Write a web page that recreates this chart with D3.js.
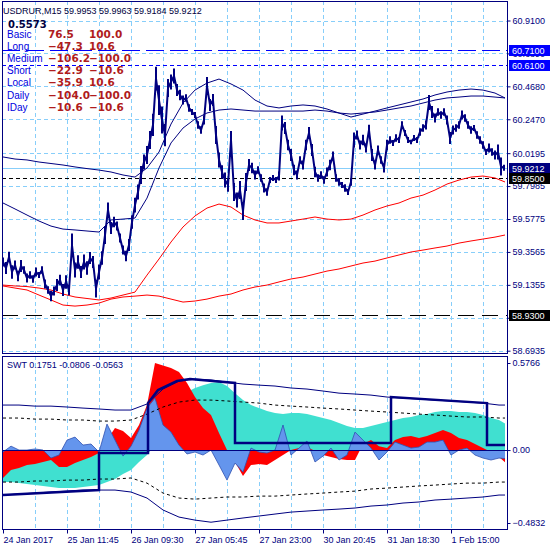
<!DOCTYPE html>
<html>
<head>
<meta charset="utf-8">
<script src="https://cdn.jsdelivr.net/npm/d3@7"></script>
<style>
body { margin: 0; background: #fff; }
text { font-family: "Liberation Sans", Arial, sans-serif; }
</style>
</head>
<body>
<svg id="chart" width="550" height="550"></svg>
<script>
// USDRUR M15 close, one value every 3 bars
const closes = [
  59.289, 59.249, 59.322, 59.222, 59.269, 59.195, 59.262, 59.235, 59.181, 59.202,
  59.175, 59.222, 59.202, 59.235, 59.141, 59.101, 59.061, 59.094, 59.134, 59.168,
  59.101, 59.155, 59.101, 59.400, 59.235, 59.289, 59.222, 59.289, 59.249, 59.316,
  59.289, 59.110, 59.222, 59.316, 59.470, 59.638, 59.517, 59.557, 59.531, 59.450,
  59.369, 59.329, 59.403, 59.557, 59.671, 59.759, 59.873, 59.960, 60.007, 60.108,
  60.209, 60.520, 60.376, 60.242, 60.141, 60.457, 60.497, 60.537, 60.443, 60.410,
  60.376, 60.390, 60.323, 60.296, 60.276, 60.209, 60.175, 60.242, 60.470, 60.343,
  60.376, 60.141, 59.974, 59.893, 59.839, 59.806, 60.108, 59.759, 59.705, 59.772,
  59.630, 59.826, 59.940, 59.920, 59.873, 59.906, 59.853, 59.786, 59.759, 59.839,
  59.853, 59.839, 59.866, 60.222, 60.188, 60.074, 60.007, 59.906, 59.873, 59.974,
  59.940, 60.074, 60.155, 60.041, 59.893, 59.853, 59.873, 59.839, 59.893, 59.940,
  60.000, 59.853, 59.826, 59.806, 59.786, 59.759, 59.826, 60.108, 60.141, 60.074,
  60.108, 60.054, 60.175, 60.007, 59.940, 60.041, 59.974, 59.920, 60.074, 60.108,
  60.088, 60.121, 60.108, 60.209, 60.155, 60.108, 60.094, 60.121, 60.108, 60.162,
  60.188, 60.209, 60.360, 60.296, 60.256, 60.296, 60.276, 60.296, 60.242, 60.121,
  60.175, 60.188, 60.209, 60.276, 60.256, 60.209, 60.175, 60.188, 60.141, 60.108,
  60.074, 60.027, 60.054, 60.027, 60.007, 60.027, 59.930, 59.9212
];
// height of the close scribble inside each 3-bar step
const closeSpread = [
  0.06, 0.08, 0.07, 0.09, 0.06, 0.07, 0.08, 0.05, 0.06, 0.05,
  0.05, 0.06, 0.04, 0.05, 0.06, 0.05, 0.07, 0.06, 0.08, 0.07,
  0.08, 0.09, 0.07, 0.16, 0.10, 0.09, 0.08, 0.10, 0.09, 0.08,
  0.08, 0.12, 0.10, 0.09, 0.12, 0.10, 0.08, 0.07, 0.06, 0.06,
  0.06, 0.07, 0.08, 0.09, 0.10, 0.10, 0.12, 0.10, 0.12, 0.12,
  0.15, 0.16, 0.20, 0.18, 0.15, 0.12, 0.10, 0.10, 0.08, 0.07,
  0.06, 0.05, 0.05, 0.04, 0.04, 0.05, 0.05, 0.06, 0.12, 0.08,
  0.08, 0.12, 0.10, 0.09, 0.10, 0.09, 0.12, 0.12, 0.10, 0.12,
  0.12, 0.12, 0.08, 0.07, 0.06, 0.05, 0.05, 0.06, 0.05, 0.04,
  0.04, 0.04, 0.06, 0.10, 0.08, 0.07, 0.08, 0.07, 0.06, 0.05,
  0.06, 0.07, 0.08, 0.08, 0.07, 0.05, 0.05, 0.05, 0.06, 0.07,
  0.06, 0.05, 0.05, 0.04, 0.05, 0.04, 0.05, 0.10, 0.06, 0.06,
  0.07, 0.06, 0.07, 0.08, 0.06, 0.06, 0.05, 0.06, 0.07, 0.05,
  0.04, 0.05, 0.04, 0.05, 0.04, 0.04, 0.03, 0.04, 0.04, 0.05,
  0.05, 0.06, 0.10, 0.08, 0.06, 0.05, 0.05, 0.05, 0.06, 0.08,
  0.06, 0.05, 0.05, 0.06, 0.05, 0.05, 0.05, 0.04, 0.05, 0.05,
  0.05, 0.04, 0.06, 0.05, 0.06, 0.10, 0.12, 0.04
];

// moving averages, one value every 12 bars (last one on the last bar)
const maNavyA = [
  59.994, 59.980, 59.974, 59.960, 59.950, 59.940, 59.927, 59.916, 59.906, 59.893,
  59.873, 59.859, 59.920, 60.027, 60.215, 60.356, 60.443, 60.490, 60.517, 60.484,
  60.443, 60.376, 60.336, 60.323, 60.336, 60.343, 60.336, 60.316, 60.289, 60.262,
  60.282, 60.302, 60.323, 60.343, 60.363, 60.383, 60.410, 60.430, 60.443, 60.450,
  60.443, 60.423, 60.390
];
const maNavyB = [
  59.685, 59.645, 59.604, 59.564, 59.530, 59.510, 59.504, 59.497, 59.490, 59.571,
  59.577, 59.584, 59.718, 59.920, 60.088, 60.188, 60.249, 60.289, 60.309, 60.316,
  60.309, 60.302, 60.302, 60.302, 60.302, 60.302, 60.309, 60.302, 60.289, 60.282,
  60.289, 60.296, 60.309, 60.323, 60.336, 60.356, 60.376, 60.390, 60.396, 60.403,
  60.403, 60.396, 60.390
];
const maRedFast = [
  59.134, 59.128, 59.124, 59.114, 59.101, 59.074, 59.054, 59.044, 59.034, 59.047,
  59.067, 59.087, 59.201, 59.309, 59.423, 59.524, 59.598, 59.651, 59.678, 59.658,
  59.604, 59.571, 59.551, 59.551, 59.564, 59.577, 59.591, 59.577, 59.571, 59.577,
  59.604, 59.638, 59.665, 59.685, 59.718, 59.738, 59.772, 59.812, 59.839, 59.859,
  59.866, 59.853, 59.826
];
const maRedSlow = [
  59.128, 59.114, 59.101, 59.067, 59.034, 59.000, 58.993, 59.000, 59.013, 59.040,
  59.054, 59.060, 59.067, 59.060, 59.040, 59.020, 59.027, 59.040, 59.060, 59.074,
  59.101, 59.121, 59.134, 59.155, 59.175, 59.188, 59.208, 59.228, 59.242, 59.262,
  59.282, 59.295, 59.316, 59.336, 59.356, 59.369, 59.383, 59.396, 59.416, 59.430,
  59.443, 59.456, 59.470
];

// SWT indicator buffers, one value every 8 bars (last one on the last bar)
const swtSlow = [
  -0.212, -0.212, -0.219, -0.225, -0.232, -0.238, -0.245, -0.252, -0.252, -0.252,
  -0.245, -0.238, -0.232, -0.212, -0.192, -0.159, -0.132, -0.079, -0.033, 0.033,
  0.119, 0.232, 0.331, 0.384, 0.411, 0.430, 0.444, 0.450, 0.424, 0.377,
  0.331, 0.298, 0.278, 0.258, 0.245, 0.238, 0.245, 0.245, 0.238, 0.225,
  0.212, 0.199, 0.179, 0.159, 0.146, 0.146, 0.159, 0.172, 0.185, 0.199,
  0.212, 0.219, 0.232, 0.238, 0.252, 0.258, 0.258, 0.252, 0.252, 0.245,
  0.232, 0.212, 0.199, 0.1751
];
const swtFast = [
  -0.185, -0.132, -0.119, -0.099, -0.093, -0.079, -0.066, -0.113, -0.113, -0.086,
  -0.066, -0.046, -0.020, 0.066, 0.146, 0.126, 0.079, 0.166, 0.298, 0.577,
  0.560, 0.543, 0.517, 0.444, 0.351, 0.278, 0.232, 0.113, 0.000, -0.079,
  -0.172, -0.099, -0.093, -0.099, -0.066, -0.033, 0.000, 0.013, 0.020, -0.007,
  -0.033, -0.046, -0.060, -0.066, -0.066, 0.040, 0.066, 0.026, 0.013, 0.066,
  0.086, 0.093, 0.079, 0.093, 0.113, 0.132, 0.113, 0.079, 0.066, 0.040,
  0.013, -0.013, -0.046, -0.0806
];
const swtWave = [
  -0.013, 0.026, 0.000, 0.000, 0.007, 0.000, -0.053, -0.033, 0.066, 0.086,
  0.033, 0.040, -0.013, 0.172, 0.066, -0.040, 0.026, 0.132, 0.278, 0.344,
  0.166, 0.119, 0.033, -0.026, -0.013, -0.033, 0.000, -0.099, -0.199, -0.086,
  -0.146, 0.013, -0.013, -0.020, 0.000, 0.166, -0.033, 0.013, 0.060, -0.079,
  -0.040, 0.013, -0.066, -0.033, 0.119, 0.066, 0.013, -0.066, -0.013, 0.053,
  0.033, 0.013, 0.020, 0.053, 0.053, 0.066, -0.033, 0.000, 0.013, -0.033,
  -0.053, -0.066, -0.053, -0.0563
];

// SWT envelope lines, one value every 16 bars (last one on the last bar)
const bandOuterUp = [
  0.298, 0.298, 0.291, 0.291, 0.285, 0.278, 0.272, 0.265, 0.265, 0.305,
  0.404, 0.457, 0.470, 0.464, 0.450, 0.437, 0.430, 0.424, 0.411, 0.404,
  0.391, 0.377, 0.371, 0.364, 0.351, 0.344, 0.338, 0.331, 0.325, 0.318,
  0.311, 0.298, 0.298
];
const bandInnerUp = [
  0.212, 0.212, 0.205, 0.205, 0.199, 0.199, 0.192, 0.192, 0.199, 0.238,
  0.285, 0.318, 0.331, 0.331, 0.325, 0.318, 0.311, 0.298, 0.291, 0.285,
  0.278, 0.272, 0.265, 0.258, 0.252, 0.245, 0.238, 0.232, 0.225, 0.219,
  0.219, 0.212, 0.212
];
const bandInnerDown = [
  -0.212, -0.212, -0.205, -0.205, -0.199, -0.199, -0.192, -0.192, -0.185, -0.219,
  -0.285, -0.318, -0.325, -0.318, -0.311, -0.311, -0.305, -0.305, -0.298, -0.291,
  -0.285, -0.278, -0.272, -0.258, -0.252, -0.245, -0.238, -0.232, -0.225, -0.219,
  -0.219, -0.212, -0.212
];
const bandOuterDown = [
  -0.298, -0.291, -0.285, -0.278, -0.272, -0.265, -0.265, -0.265, -0.278, -0.318,
  -0.397, -0.444, -0.464, -0.478, -0.464, -0.450, -0.437, -0.424, -0.411, -0.404,
  -0.397, -0.391, -0.384, -0.371, -0.364, -0.351, -0.344, -0.331, -0.325, -0.318,
  -0.311, -0.298, -0.298
];

// SWT signal steps
const stepBars = [0, 96, 96, 145, 145, 155, 174, 187, 232, 232, 388, 388, 484, 484, 502];
const stepVals = [-0.298, -0.265, -0.020, -0.020, 0.311, 0.397, 0.457, 0.470, 0.444, 0.046, 0.046, 0.351, 0.311, 0.033, 0.033];

const priceTicks = [60.9100, 60.6890, 60.4680, 60.2470, 60.0195, 59.7985, 59.5775, 59.3565, 59.1355, 58.9145, 58.6935];
const swtTicks = [0.5766, 0, -0.4832];
const dateBars = [0, 64, 128, 192, 256, 320, 384, 448];
const dateLabels = ["24 Jan 2017", "25 Jan 11:45", "26 Jan 09:30", "27 Jan 05:45", "27 Jan 23:00", "30 Jan 20:45", "31 Jan 18:30", "1 Feb 15:00"];

const levelLong = 60.7100;
const levelMedium = 60.6100;
const lastPrice = 59.9212;
const levelShort = 59.8500;
const levelDaily = 58.9300;

const symbolTitle = "USDRUR,M15";
const ohlc = ["59.9953", "59.9963", "59.9184", "59.9212"];
const scoreTotal = "0.5573";
const legendNames = ["Basic", "Long", "Medium", "Short", "Local", "Daily", "IDay"];
const legendA = [76.5, -47.3, -106.2, -22.9, -35.9, -104.0, -10.6];
const legendB = [100.0, 10.6, -100.0, -10.6, 10.6, -100.0, -10.6];
const swtName = "SWT";
const swtLast = ["0.1751", "-0.0806", "-0.0563"];

const closeBars = closes.map((d, i) => i * 3);
const maBars = d3.range(0, 493, 12).concat([502]);
const swtBars = d3.range(0, 497, 8).concat([502]);
const bandBars = d3.range(0, 497, 16).concat([502]);

// layout
const navy = "#000080";
const gridColor = "#87cefa";
const plotL = 2, plotR = 507;
const mainT = 1, mainB = 353, subT = 356, subB = 529;

const svg = d3.select("#chart");
svg.append("rect").attr("width", 550).attr("height", 550).attr("fill", "#fff");

const x = d3.scaleLinear().domain([0, 502]).range([3, 505]);
const y = d3.scaleLinear().domain([58.6935, 60.9100]).range([350.7, 20.5]);
const ys = d3.scaleLinear().domain([-0.4832, 0.5766]).range([523, 363]);

const defs = svg.append("defs");
defs.append("clipPath").attr("id", "clipMain").append("rect")
    .attr("x", plotL).attr("y", mainT).attr("width", plotR - plotL).attr("height", mainB - mainT);
defs.append("clipPath").attr("id", "clipSub").append("rect")
    .attr("x", plotL).attr("y", subT).attr("width", plotR - plotL).attr("height", subB - subT);

const main = svg.append("g").attr("clip-path", "url(#clipMain)");
const sub = svg.append("g").attr("clip-path", "url(#clipSub)");

// grid
const gridBars = d3.range(32, 481, 32);
main.selectAll(".hgrid").data(priceTicks).enter().append("line")
    .attr("x1", plotL).attr("x2", plotR)
    .attr("y1", d => Math.round(y(d)) + 0.5).attr("y2", d => Math.round(y(d)) + 0.5)
    .attr("stroke", gridColor).attr("stroke-dasharray", "4,3");
[[main, mainT, mainB], [sub, subT, subB]].forEach(([g, t, b]) => {
    g.selectAll(".vgrid").data(gridBars).enter().append("line")
        .attr("x1", d => Math.round(x(d)) + 0.5).attr("x2", d => Math.round(x(d)) + 0.5)
        .attr("y1", t).attr("y2", b)
        .attr("stroke", gridColor).attr("stroke-dasharray", "4,3");
});

// horizontal levels
const hline = (v, color, dash) => {
    const yy = Math.round(y(v)) + 0.5;
    main.append("line").attr("x1", plotL).attr("x2", plotR).attr("y1", yy).attr("y2", yy)
        .attr("stroke", color).attr("stroke-dasharray", dash);
};
hline(levelLong, "#0000ff", "18,6");
hline(levelMedium, "#0000ff", "4,3");
hline(lastPrice, gridColor, null);
hline(levelShort, "#000", "4,3");
hline(levelDaily, "#000", "16,8");

// moving averages
const lineOn = (bars, scale) => d3.line().x((d, i) => x(bars[i])).y(d => scale(d));
const maLine = lineOn(maBars, y);
main.append("path").attr("d", maLine(maRedSlow)).attr("fill", "none").attr("stroke", "#ff0000");
main.append("path").attr("d", maLine(maRedFast)).attr("fill", "none").attr("stroke", "#ff0000");
main.append("path").attr("d", maLine(maNavyA)).attr("fill", "none").attr("stroke", navy);
main.append("path").attr("d", maLine(maNavyB)).attr("fill", "none").attr("stroke", navy);

// price
main.append("path").attr("d", lineOn(closeBars, y)(closes))
    .attr("fill", "none").attr("stroke", navy).attr("stroke-width", 2).attr("stroke-linejoin", "miter");
main.selectAll(".scribble").data(closes).enter().append("line")
    .attr("x1", (d, i) => x(closeBars[i])).attr("x2", (d, i) => x(closeBars[i]))
    .attr("y1", (d, i) => y(d + closeSpread[i] / 2)).attr("y2", (d, i) => y(d - closeSpread[i] / 2))
    .attr("stroke", navy).attr("stroke-width", 2);

// SWT fills
const fill0 = (bars) => d3.area().x((d, i) => x(bars[i])).y0(ys(0)).y1(d => ys(d));
sub.append("path").attr("d", fill0(swtBars)(swtSlow)).attr("fill", "#40e0d0");
sub.append("path").attr("d", fill0(swtBars)(swtFast)).attr("fill", "#ff0000");
sub.append("path").attr("d", fill0(swtBars)(swtWave)).attr("fill", "#6495ed");
sub.append("path").attr("d", lineOn(swtBars, ys)(swtWave)).attr("fill", "none").attr("stroke", "#3050b0").attr("stroke-width", 0.8);

// zero line and envelopes
sub.append("line").attr("x1", plotL).attr("x2", plotR)
    .attr("y1", Math.round(ys(0)) + 0.5).attr("y2", Math.round(ys(0)) + 0.5).attr("stroke", navy);
const bandLine = lineOn(bandBars, ys);
sub.append("path").attr("d", bandLine(bandOuterUp)).attr("fill", "none").attr("stroke", navy);
sub.append("path").attr("d", bandLine(bandOuterDown)).attr("fill", "none").attr("stroke", navy);
sub.append("path").attr("d", bandLine(bandInnerUp)).attr("fill", "none").attr("stroke", "#000").attr("stroke-dasharray", "3,3");
sub.append("path").attr("d", bandLine(bandInnerDown)).attr("fill", "none").attr("stroke", "#000").attr("stroke-dasharray", "3,3");
sub.append("path").attr("d", lineOn(stepBars, ys)(stepVals))
    .attr("fill", "none").attr("stroke", navy).attr("stroke-width", 2.5);

// frames
svg.append("rect").attr("x", plotL + 0.5).attr("y", mainT + 0.5)
    .attr("width", plotR - plotL).attr("height", mainB - mainT)
    .attr("fill", "none").attr("stroke", navy);
svg.append("rect").attr("x", plotL + 0.5).attr("y", subT + 0.5)
    .attr("width", plotR - plotL).attr("height", subB - subT)
    .attr("fill", "none").attr("stroke", navy);

// axes
const styleAxis = g => {
    g.select(".domain").remove();
    g.selectAll("line").attr("stroke", navy);
    g.selectAll("text").attr("fill", navy).style("font-size", "9px")
        .style("font-family", "'Liberation Sans', Arial, sans-serif");
};
svg.append("g").attr("transform", `translate(${plotR + 0.5},0)`)
    .call(d3.axisRight(y).tickValues(priceTicks).tickFormat(d3.format(".4f")).tickSize(3).tickPadding(2))
    .call(styleAxis);
svg.append("g").attr("transform", `translate(${plotR + 0.5},0)`)
    .call(d3.axisRight(ys).tickValues(swtTicks).tickFormat(d => d === 0 ? "0.00" : d3.format(".4f")(d)).tickSize(3).tickPadding(2))
    .call(styleAxis);
svg.append("g").attr("transform", `translate(0,${subB + 0.5})`)
    .call(d3.axisBottom(x).tickValues(dateBars).tickFormat((d, i) => dateLabels[i]).tickSize(4).tickPadding(3))
    .call(styleAxis)
    .call(g => g.selectAll("text").attr("text-anchor", "start"));

// price tags on the scale
const tag = (v, bg) => {
    const yy = Math.round(y(v));
    const g = svg.append("g");
    g.append("rect").attr("x", 509).attr("y", yy - 5).attr("width", 41).attr("height", 11).attr("fill", bg);
    g.append("text").attr("x", 512).attr("y", yy + 3.5).attr("fill", "#fff")
        .style("font-size", "9px").text(d3.format(".4f")(v));
};
tag(levelLong, "#0000ff");
tag(levelMedium, "#0000ff");
tag(lastPrice, navy);
tag(levelShort, "#000");
tag(levelDaily, "#000");

// legends
svg.append("text").attr("x", 3).attr("y", 14).attr("fill", "#000040").style("font-size", "9px")
    .text(symbolTitle + " " + ohlc.join(" "));
svg.append("text").attr("x", 8).attr("y", 28).attr("fill", "#000040")
    .style("font", "bold 10px 'DejaVu Sans'").text(scoreTotal);
const fmt1 = d3.format(".1f");
legendNames.forEach((name, i) => {
    const by = 38 + i * 12.1;
    svg.append("text").attr("x", 7).attr("y", by).attr("fill", "#0000e0").style("font-size", "10px").text(name);
    svg.append("text").attr("x", 48).attr("y", by).attr("fill", "#b01c1c")
        .style("font", "bold 10.5px 'DejaVu Sans'").text(fmt1(legendA[i]));
    svg.append("text").attr("x", 89).attr("y", by).attr("fill", "#b01c1c")
        .style("font", "bold 10.5px 'DejaVu Sans'").text(fmt1(legendB[i]));
});
svg.append("text").attr("x", 7).attr("y", 368).attr("fill", navy).style("font-size", "9px")
    .text(swtName + " " + swtLast.join(" "));
</script>
</body>
</html>
